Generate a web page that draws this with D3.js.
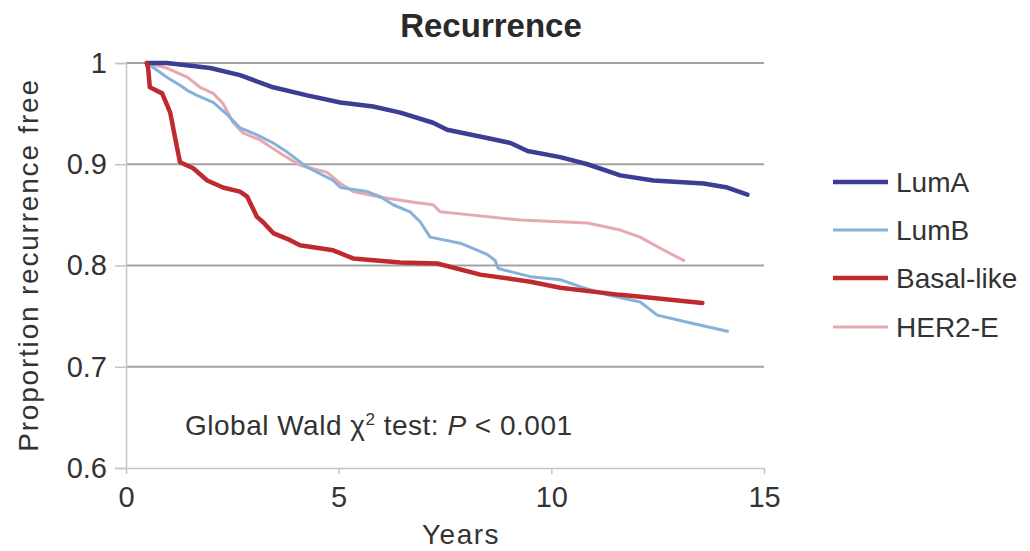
<!DOCTYPE html>
<html>
<head>
<meta charset="utf-8">
<script src="https://cdn.jsdelivr.net/npm/d3@7"></script>
<style>
  html, body { margin: 0; padding: 0; background: #fff; }
  svg { display: block; font-family: "Liberation Sans", Arial, sans-serif; }
</style>
</head>
<body>
<svg id="chart" width="1030" height="551"></svg>
<script>
// ---- Data ----
const seriesNames = ["LumA", "LumB", "Basal-like", "HER2-E"];
const seriesColors = ["#3d3d94", "#86b2da", "#be2a2e", "#e6a9b0"];
const xTicks = [0, 5, 10, 15];
const yTicks = [0.6, 0.7, 0.8, 0.9, 1];
const yTickLabels = ["0.6", "0.7", "0.8", "0.9", "1"];

const lumA = [
  [0.49, 1.0], [0.96, 1.0], [1.98, 0.995], [2.68, 0.988], [3.46, 0.976], [4.26, 0.968],
  [5.04, 0.961], [5.81, 0.957], [6.45, 0.951], [7.22, 0.941], [7.55, 0.934], [8.49, 0.926],
  [9.04, 0.921], [9.44, 0.913], [10.21, 0.907], [10.85, 0.900], [11.62, 0.889], [12.4, 0.884],
  [13.58, 0.881], [14.14, 0.877], [14.61, 0.870]
];
const lumB = [
  [0.49, 1.0], [0.56, 0.998], [0.96, 0.986], [1.27, 0.978], [1.44, 0.973], [1.67, 0.968],
  [2.05, 0.961], [2.38, 0.949], [2.68, 0.936], [3.08, 0.929], [3.46, 0.921], [3.79, 0.912],
  [4.26, 0.897], [4.87, 0.884], [5.04, 0.877], [5.67, 0.873], [5.98, 0.868], [6.28, 0.860],
  [6.68, 0.853], [6.92, 0.843], [7.15, 0.828], [7.86, 0.822], [8.49, 0.811], [8.68, 0.805],
  [8.75, 0.797], [9.51, 0.789], [10.21, 0.786], [10.68, 0.779], [11.32, 0.771], [12.09, 0.764],
  [12.49, 0.751], [13.2, 0.744], [14.14, 0.735]
];
const basal = [
  [0.49, 1.0], [0.52, 0.995], [0.56, 0.976], [0.85, 0.970], [1.04, 0.951], [1.15, 0.927],
  [1.27, 0.902], [1.58, 0.896], [1.91, 0.884], [2.28, 0.877], [2.68, 0.873], [2.85, 0.868],
  [3.08, 0.848], [3.22, 0.843], [3.46, 0.832], [3.86, 0.825], [4.09, 0.820], [4.87, 0.815],
  [5.34, 0.807], [6.45, 0.803], [7.32, 0.802], [8.33, 0.791], [9.51, 0.784], [10.21, 0.778],
  [11.62, 0.771], [12.4, 0.768], [13.55, 0.763]
];
const her2 = [
  [0.49, 1.0], [0.96, 0.995], [1.44, 0.986], [1.74, 0.976], [2.05, 0.970], [2.28, 0.960],
  [2.52, 0.941], [2.75, 0.931], [3.15, 0.924], [3.62, 0.911], [4.09, 0.899], [4.73, 0.892],
  [5.04, 0.881], [5.34, 0.873], [5.91, 0.868], [6.85, 0.862], [7.22, 0.860], [7.39, 0.853],
  [8.09, 0.850], [9.27, 0.845], [10.85, 0.842], [11.62, 0.835], [12.09, 0.828], [12.56, 0.817],
  [13.11, 0.805]
];
const seriesData = [lumA, lumB, basal, her2];

// ---- Layout ----
const svg = d3.select("#chart");
const x = d3.scaleLinear().domain([0, 15]).range([126, 764]);
const y = d3.scaleLinear().domain([0.6, 1]).range([468, 63]);
const textColor = "#333";

// Title
svg.append("text").attr("x", 491).attr("y", 37).attr("text-anchor", "middle")
  .attr("font-size", 33).attr("font-weight", "bold").attr("fill", "#2a2a2a").text("Recurrence");

// Gridlines (0.7 .. 1)
svg.append("g").selectAll("line").data(yTicks.filter(d => d > 0.6)).join("line")
  .attr("x1", x(0)).attr("x2", x(15)).attr("y1", d => y(d)).attr("y2", d => y(d))
  .attr("stroke", "#a3a3a3").attr("stroke-width", 2);

// Y axis
const yAxis = d3.axisLeft(y).tickValues(yTicks).tickFormat((d, i) => yTickLabels[i])
  .tickSize(11).tickPadding(8);
const gy = svg.append("g").attr("transform", `translate(${x(0)},0)`).call(yAxis);
gy.select(".domain").attr("stroke", "#c4c4c4").attr("stroke-width", 1.5);
gy.selectAll(".tick line").attr("stroke", "#c4c4c4").attr("stroke-width", 1.5);
gy.selectAll(".tick text").attr("font-size", 29).attr("fill", textColor)
  .attr("font-family", "Liberation Sans, Arial, sans-serif");

// X axis
const xAxis = d3.axisBottom(x).tickValues(xTicks).tickFormat(d3.format("d"))
  .tickSize(6).tickPadding(12).tickSizeOuter(0);
const gx = svg.append("g").attr("transform", `translate(0,${y(0.6)})`).call(xAxis);
gx.select(".domain").attr("stroke", "#c4c4c4").attr("stroke-width", 1.5);
gx.selectAll(".tick line").attr("stroke", "#c4c4c4").attr("stroke-width", 1.5);
gx.selectAll(".tick text").attr("font-size", 29).attr("fill", textColor)
  .attr("font-family", "Liberation Sans, Arial, sans-serif");

// Axis titles
svg.append("text").attr("x", 461).attr("y", 544).attr("text-anchor", "middle")
  .attr("font-size", 28).attr("letter-spacing", 1.5).attr("fill", textColor).text("Years");
svg.append("text").attr("transform", "translate(38,265) rotate(-90)").attr("text-anchor", "middle")
  .attr("font-size", 28).attr("letter-spacing", 1.8).attr("fill", textColor)
  .text("Proportion recurrence free");

// Annotation
const ann = svg.append("text").attr("x", 185).attr("y", 435).attr("font-size", 28)
  .attr("letter-spacing", 0.5).attr("fill", textColor);
ann.append("tspan").text("Global Wald \u03C7");
ann.append("tspan").attr("font-size", 17).attr("dy", -10).text("2");
ann.append("tspan").attr("dy", 10).text(" test: ");
ann.append("tspan").attr("font-style", "italic").text("P");
ann.append("tspan").text(" < 0.001");

// Curves
const line = d3.line().x(d => x(d[0])).y(d => y(d[1]));
const widths = [4.5, 3, 4.5, 3];
const order = [3, 1, 0, 2];
svg.append("g").selectAll("path").data(order).join("path")
  .attr("d", i => line(seriesData[i]))
  .attr("fill", "none").attr("stroke", i => seriesColors[i]).attr("stroke-width", i => widths[i])
  .attr("stroke-linejoin", "round").attr("stroke-linecap", "round");

// Legend
const legendY = [182, 230, 278, 327];
const lg = svg.append("g").selectAll("g").data(seriesNames).join("g")
  .attr("transform", (d, i) => `translate(0,${legendY[i]})`);
lg.append("line").attr("x1", 833).attr("x2", 888).attr("y1", 0).attr("y2", 0)
  .attr("stroke", (d, i) => seriesColors[i]).attr("stroke-width", (d, i) => widths[i]);
lg.append("text").attr("x", 896).attr("y", 0).attr("dy", "0.35em").attr("font-size", 28)
  .attr("fill", textColor).text(d => d);
</script>
</body>
</html>
